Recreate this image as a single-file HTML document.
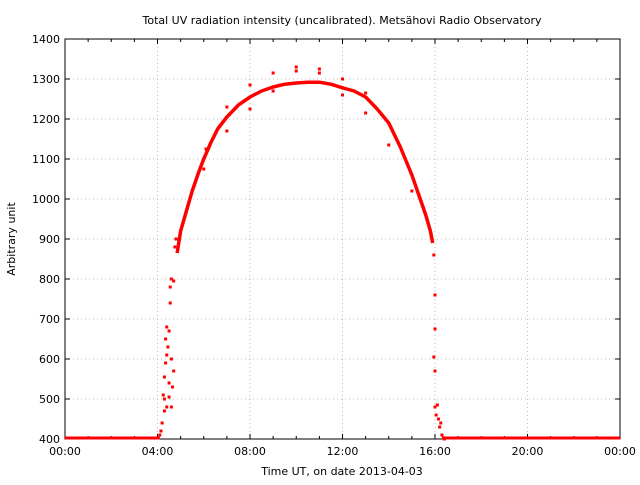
<!DOCTYPE html>
<html><head><meta charset="utf-8"><style>
body{margin:0;background:#fff;}
svg text{font-family:"DejaVu Sans","Liberation Sans",sans-serif;font-size:11px;fill:#000;}
</style></head><body>
<svg id="chart" width="640" height="480" xmlns="http://www.w3.org/2000/svg">
<rect x="0" y="0" width="640" height="480" fill="#fff"/>
<text x="342" y="24" text-anchor="middle">Total UV radiation intensity (uncalibrated). Metsähovi Radio Observatory</text>
<text transform="translate(15,239) rotate(-90)" text-anchor="middle">Arbitrary unit</text>
<text x="342" y="475" text-anchor="middle">Time UT, on date 2013-04-03</text>
<g id="grid"></g><g id="axes"></g><g id="marks"></g>
</svg>
<script>
const xTicks=[0,4,8,12,16,20,24];
const xTickLabels=["00:00","04:00","08:00","12:00","16:00","20:00","00:00"];
const yTicks=[400,500,600,700,800,900,1000,1100,1200,1300,1400];
const curveHours=[4.85,5.0,5.2,5.5,5.8,6.0,6.3,6.6,7.0,7.5,8.0,8.5,9.0,9.5,10.0,10.5,11.0,11.5,12.0,12.5,13.0,13.5,14.0,14.5,15.0,15.3,15.6,15.8,15.9];
const curveValues=[865,920,960,1020,1070,1100,1140,1175,1205,1235,1255,1270,1280,1287,1290,1292,1292,1287,1278,1270,1255,1225,1190,1130,1060,1010,960,920,890];
const scatterHours=[4.2,4.3,4.25,4.3,4.35,4.4,4.35,4.4,4.5,4.45,4.5,4.6,4.65,4.5,4.7,4.6,4.55,4.6,4.7,4.55,4.4,4.3,4.75,4.8,4.15,4.1,
7.0,7.0,8.0,8.0,9.0,9.0,10.0,10.0,11.0,11.0,12.0,12.0,13.0,13.0,14.0,15.0,6.0,6.1,
15.95,16.0,16.0,15.95,16.0,16.0,16.05,16.1,16.2,16.15,16.3,16.25,16.4];
const scatterValues=[440,470,510,555,590,610,650,680,670,630,540,600,530,505,570,480,780,800,795,740,480,500,880,900,420,410,
1230,1170,1285,1225,1315,1270,1330,1320,1325,1315,1300,1260,1265,1215,1135,1020,1075,1125,
860,760,675,605,570,480,460,485,430,450,410,440,400];
const baseSegments=[[0,4.1],[16.3,24]];
const X0=65,X1=620,Y0=439,Y1=39;
const xs=h=>X0+(h/24)*(X1-X0);
const ys=v=>Y0-(v-400)/1000*(Y0-Y1);
const NS="http://www.w3.org/2000/svg";
function mk(tag,attrs,parent){const e=document.createElementNS(NS,tag);for(const k in attrs)e.setAttribute(k,attrs[k]);parent.appendChild(e);return e;}
const grid=document.getElementById('grid'),axes=document.getElementById('axes'),marks=document.getElementById('marks');
xTicks.forEach((t,i)=>{
  const x=xs(t);
  if(i>0&&i<xTicks.length-1){const g=mk('line',{x1:x,x2:x,y1:Y1,y2:Y0,stroke:'#bbb','stroke-dasharray':'1,3'},grid);
  
  }
  mk('line',{x1:x,x2:x,y1:Y0,y2:Y0-5,stroke:'#000'},axes);
  mk('line',{x1:x,x2:x,y1:Y1,y2:Y1+5,stroke:'#000'},axes);
  const tx=mk('text',{x:x,y:455,'text-anchor':'middle'},axes);tx.textContent=xTickLabels[i];
  
  
});
for(let h=1;h<24;h++){if(h%4){const x=xs(h);mk('line',{x1:x,x2:x,y1:Y0,y2:Y0-3,stroke:'#000'},axes);mk('line',{x1:x,x2:x,y1:Y1,y2:Y1+3,stroke:'#000'},axes);}}
yTicks.forEach((t,i)=>{
  const y=ys(t);
  if(i>0&&i<yTicks.length-1){const g=mk('line',{x1:X0,x2:X1,y1:y,y2:y,stroke:'#bbb','stroke-dasharray':'1,3'},grid);
  
  }
  mk('line',{x1:X0,x2:X0+5,y1:y,y2:y,stroke:'#000'},axes);
  mk('line',{x1:X1,x2:X1-5,y1:y,y2:y,stroke:'#000'},axes);
  const tx=mk('text',{x:X0-5,y:y+4,'text-anchor':'end'},axes);tx.textContent=t;
  
  
});
const fr=mk('rect',{x:X0,y:Y1,width:X1-X0,height:Y0-Y1,fill:'none',stroke:'#000'},axes);


baseSegments.forEach(s=>{
  const l=mk('line',{x1:xs(s[0]),x2:xs(s[1]),y1:ys(400)-1,y2:ys(400)-1,stroke:'#f00','stroke-width':3},marks);
  
  
});
const pts=curveHours.map((h,i)=>xs(h)+','+ys(curveValues[i])).join(' ');
const pl=mk('polyline',{points:pts,fill:'none',stroke:'#f00','stroke-width':3.5,'stroke-linejoin':'round'},marks);


scatterHours.forEach((h,i)=>{
  const c=mk('rect',{x:xs(h)-1.5,y:ys(scatterValues[i])-1.5,width:3,height:3,fill:'#f00'},marks);
  
  
});
</script>
</body></html>
